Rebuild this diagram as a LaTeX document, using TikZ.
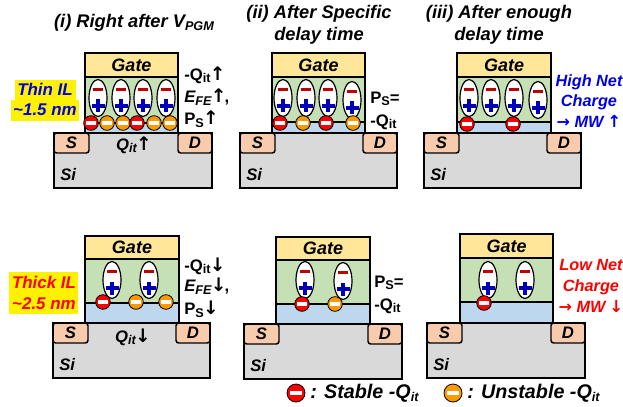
\documentclass[tikz,border=0pt]{standalone}
\usepackage{fontspec}
\setmainfont{Liberation Sans}
\newfontfamily\arrf{DejaVu Sans}
\definecolor{gatec}{HTML}{FFE699}
\definecolor{fec}{HTML}{C5E0B4}
\definecolor{ilc}{HTML}{BDD7EE}
\definecolor{sdc}{HTML}{F8CBAD}
\definecolor{sic}{HTML}{D9D9D9}
\definecolor{stablec}{HTML}{FF0000}
\definecolor{unstablec}{HTML}{FF9900}
\definecolor{minusc}{HTML}{C00000}
\definecolor{plusc}{HTML}{0000B8}
\newcommand{\lowsub}[1]{\raisebox{-0.3ex}{\fontsize{9.5}{10}\selectfont #1}}
\newcommand{\bi}{\bfseries\itshape}
\newcommand{\upa}{{\arrf\bfseries\upshape\fontsize{14}{14}\selectfont\hspace{-0.5pt}↑\hspace{-1.5pt}}}
\newcommand{\dna}{{\arrf\bfseries\upshape\fontsize{14}{14}\selectfont\hspace{-0.5pt}↓\hspace{-1.5pt}}}
\newcommand{\upb}{{\arrf\bfseries\upshape\fontsize{12.5}{12.5}\selectfont\hspace{-0.5pt}↑\hspace{-1pt}}}
\newcommand{\dnb}{{\arrf\bfseries\upshape\fontsize{12.5}{12.5}\selectfont\hspace{-0.5pt}↓\hspace{-1pt}}}
\newcommand{\rta}{{\arrf\bfseries\upshape\fontsize{12}{12}\selectfont →}}
\tikzset{
  layer/.style={draw=black,line width=1.1pt},
  title/.style={font=\fontsize{13.7}{16.5}\selectfont\bi,align=center,inner sep=0},
  devtext/.style={font=\fontsize{12.5}{14}\selectfont\bi,inner sep=0},
  plain/.style={font=\fontsize{12.5}{14}\selectfont\bfseries,inner sep=0,anchor=west},
  etext/.style={font=\fontsize{12.5}{14}\selectfont\bi,inner sep=0,anchor=west},
  side/.style={font=\fontsize{12.2}{15.5}\selectfont\bi,align=center,inner sep=0},
  ilthin/.style={font=\fontsize{12.7}{15}\selectfont\bi,inner sep=0,text=blue!90!black},
  ilthick/.style={font=\fontsize{12.7}{15}\selectfont\bi,inner sep=0,text=red},
  dipole/.style={draw=black,fill=white,ellipse,line width=0.9pt,minimum width=13.5pt,minimum height=27.8pt,inner sep=0},
  legend/.style={font=\fontsize{14.8}{16}\selectfont\bi,inner sep=0,anchor=west},
}
\usetikzlibrary{shapes.geometric}
% gate x0 x1, gate top, gate/FE y, FE/IL y; substrate x0 x1, top
\newcommand{\device}[8]{%
  \fill[fec] (#1,#4) rectangle (#2,#5);
  \fill[ilc] (#1,#5) rectangle (#2,#8);
  \draw[layer,fill=gatec] (#1,#3) rectangle (#2,#4);
  \draw[layer] (#1,#4) -- (#1,#8);
  \draw[layer] (#2,#4) -- (#2,#8);
  \draw[layer] (#1,#5) -- (#2,#5);
  \draw[layer,fill=sic] (#6,#8) rectangle (#7,{#8+55});
  \draw[layer,fill=sdc,rounded corners=2pt] (#6,#8) -- ({#6+35},#8) -- ({#6+35},{#8+20}) -- (#6,{#8+20}) -- cycle;
  \draw[layer,fill=sdc,rounded corners=2pt] (#7,#8) -- ({#7-34},#8) -- ({#7-34},{#8+20}) -- (#7,{#8+20}) -- cycle;
  \draw[layer] (#6,#8) rectangle (#7,{#8+55});
  \node[devtext,font=\fontsize{13.5}{14}\selectfont\bi] at ({(#1+#2)/2},{(#3+#4)/2}) {Gate};
  \node[devtext] at ({#6+17.5},{#8+10}) {S};
  \node[devtext] at ({#7-17},{#8+10}) {D};
  \node[devtext,anchor=west] at ({#6+6},{#8+42}) {Si};
}
\newcommand{\dip}[2]{%
  \node[dipole] at (#1,#2) {};
  \fill[minusc] ({#1-5},{#2-10}) rectangle ({#1+5},{#2-7});
  \draw[plusc,line width=2.3pt] ({#1-6.5},{#2+8}) -- ({#1+6.5},{#2+8}) ({#1},{#2+1.5}) -- ({#1},{#2+14.5});
}
\newcommand{\chg}[4]{%
  \draw[fill=#3,draw=black,line width=0.6pt] (#1,#2) circle [radius=#4];
  \fill[white] ({#1-0.7*#4},{#2-0.25*#4}) rectangle ({#1+0.7*#4},{#2+0.25*#4});
}
\newcommand{\st}[2]{\chg{#1}{#2}{stablec}{7.3}}
\newcommand{\un}[2]{\chg{#1}{#2}{unstablec}{7.3}}
\begin{document}
\begin{tikzpicture}[x=0.75pt,y=-0.75pt]
\useasboundingbox (0,0) rectangle (623,406);
% titles
\node[title] (t1) at (134,23) {(i) Right after V\lowsub{PGM}};
\node[title] (t2) at (319,24.5) {(ii) After Specific\\delay time};
\node[title] (t3) at (499,24.5) {(iii) After enough\\delay time};
% device 1
\device{85}{178}{53}{77}{123}{54}{212}{133}
\foreach \x in {98,121,143,166} {\dip{\x}{98}}
\st{91}{123}\un{107}{123}\un{123}{123}\st{137}{123}\un{154}{123}\un{170}{123}
% device 2
\device{272}{365}{53}{77}{122}{240}{397}{133}
\dip{283}{98}\dip{306}{98}\dip{328}{98}\dip{352}{100}
\st{280}{123}\un{303}{123}\st{326}{123}\un{353}{123}
% device 3
\device{457}{551}{53}{77}{122}{424}{581}{133}
\dip{469}{98}\dip{491}{98}\dip{514}{98}\dip{538}{100}
\st{467}{124}\st{513}{124}
% device 4
\device{85}{179}{236}{259}{303}{53}{210}{323}
\dip{112}{280}\dip{149}{280}
\st{103}{302}\un{136}{302}\un{166}{302}
% device 5
\device{276}{370}{237}{260}{304}{244}{402}{324}
\dip{305}{280}\dip{343}{281}
\st{302}{304}\un{335}{304}
% device 6
\device{460}{553}{234}{258}{302}{427}{585}{323}
\dip{488}{280}\dip{525}{280}
\st{484}{303}
% IL labels
\fill[yellow] (15,80) rectangle (76,100);
\fill[yellow] (11,100) rectangle (79,121);
\node[ilthin] (thin1) at (45,89) {Thin IL};
\node[ilthin] (thin2) at (45,110) {\textasciitilde1.5 nm};
\fill[yellow] (9,272) rectangle (78,314);
\node[ilthick] (thick1) at (44,282) {Thick IL};
\node[ilthick] (thick2) at (44,304) {\textasciitilde2.5 nm};
% device 1 notes
\node[plain] (q1) at (184,75) {-Q\lowsub{it}\upa};
\node[etext] (e1) at (184,97) {E\lowsub{FE}\upa{\upshape,}};
\node[plain] (p1) at (184,119) {P\lowsub{S}\upa};
\node[devtext] (qa) at (134,145) {Q\lowsub{it}\upa};
% device 4 notes
\node[plain] (q4) at (184,266) {-Q\lowsub{it}\dna};
\node[etext] (e4) at (184,286) {E\lowsub{FE}\dna{\upshape,}};
\node[plain] (p4) at (184,309) {P\lowsub{S}\dna};
\node[devtext] (qb) at (133,337) {Q\lowsub{it}\dna};
% device 2, 5 notes
\node[plain] (p2) at (370,99) {P\lowsub{S}=};
\node[plain] (m2) at (370,122) {-Q\lowsub{it}};
\node[plain] (p5) at (374,283) {P\lowsub{S}=};
\node[plain] (m5) at (374,306) {-Q\lowsub{it}};
% net charge notes
\node[side,text=blue!90!black] (hi) at (589,101) {High Net\\Charge\\\rta{} MW \upb};
\node[side,text=red] (lo) at (591,286) {Low Net\\Charge\\\rta{} MW \dnb};
% legend
\chg{296}{393}{stablec}{9}
\node[legend] (l1) at (310,393) {: Stable -Q\lowsub{it}};
\chg{453}{393}{unstablec}{9}
\node[legend] (l2) at (467,393) {: Unstable -Q\lowsub{it}};
\end{tikzpicture}
\end{document}
